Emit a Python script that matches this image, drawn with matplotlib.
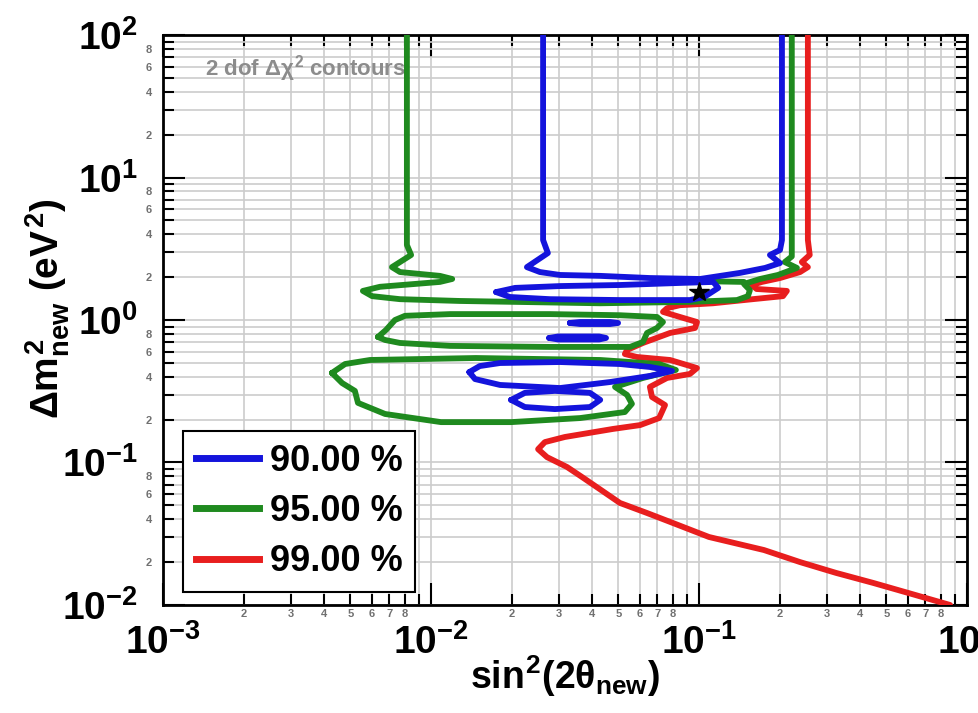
import numpy as np
import matplotlib
matplotlib.use('Agg')
import matplotlib.pyplot as plt
from matplotlib.ticker import LogLocator, FuncFormatter, LogFormatterMathtext
from matplotlib.lines import Line2D

plt.rcParams['font.family'] = ['Liberation Sans', 'DejaVu Sans']
plt.rcParams['font.weight'] = 'bold'
plt.rcParams['mathtext.fontset'] = 'custom'
for k in ('rm', 'it', 'bf', 'sf'):
    plt.rcParams['mathtext.' + k] = 'Liberation Sans:bold'

# ---------------- dane (sin^2(2theta), dm^2) ----------------
# 99 % (czerwony) - jedna otwarta krzywa
red99_x = [0.2549, 0.2549, 0.259, 0.242, 0.2549, 0.2383, 0.2006, 0.1718, 0.1575, 0.164,
           0.2128, 0.2058, 0.1587, 0.1128, 0.0849, 0.0760, 0.0734, 0.0849, 0.0983, 0.0967,
           0.0780, 0.0618, 0.0539, 0.0529, 0.0587, 0.0780, 0.0983, 0.0925, 0.0760, 0.0656,
           0.0668, 0.0747, 0.0710, 0.0603, 0.0478, 0.0316, 0.0266, 0.0251, 0.0271, 0.0322,
           0.0366, 0.0428, 0.0507, 0.0640, 0.0800, 0.1090, 0.1748, 0.2383, 0.3245, 0.4457,
           0.608, 0.865]
red99_y = [100, 3.64, 2.86, 2.55, 2.35, 2.17, 1.97, 1.85, 1.76, 1.65,
           1.60, 1.47, 1.40, 1.31, 1.27, 1.21, 1.14, 1.05, 0.968, 0.879,
           0.811, 0.690, 0.616, 0.577, 0.550, 0.524, 0.460, 0.418, 0.392, 0.339,
           0.288, 0.253, 0.205, 0.183, 0.172, 0.151, 0.139, 0.124, 0.109, 0.0929,
           0.0791, 0.0647, 0.0520, 0.0442, 0.0376, 0.0300, 0.0243, 0.0200, 0.0168, 0.0143,
           0.0121, 0.0100]

# 95 % (zielony)
green95_u_x = [0.00813, 0.00813, 0.00843, 0.00766, 0.00715, 0.00766, 0.0108, 0.0120, 0.0108, 0.00645,
               0.00557, 0.00603, 0.00766, 0.0128, 0.0428, 0.0925, 0.1386, 0.1523, 0.1549, 0.1472,
               0.169, 0.197, 0.232, 0.209, 0.222, 0.222]
green95_u_y = [100, 3.36, 2.86, 2.55, 2.35, 2.17, 2.04, 1.94, 1.85, 1.71,
               1.60, 1.47, 1.40, 1.36, 1.31, 1.34, 1.38, 1.47, 1.62, 1.79,
               1.94, 2.07, 2.32, 2.55, 2.79, 100]
green95_band_x = [0.0925, 0.1472]
green95_band_y = [1.88, 1.85]
green95_a_x = [0.00634, 0.00679, 0.00734, 0.0080, 0.0118, 0.0278, 0.0507, 0.0697, 0.0734, 0.0697,
               0.0640, 0.0618, 0.0553, 0.0278, 0.0118, 0.00766, 0.00674, 0.00634]
green95_a_y = [0.760, 0.851, 1.00, 1.07, 1.10, 1.10, 1.08, 1.05, 0.968, 0.879,
               0.811, 0.701, 0.647, 0.647, 0.658, 0.690, 0.724, 0.760]
green95_b_x = [0.00427, 0.00478, 0.00592, 0.0147, 0.0428, 0.0710, 0.0820, 0.0710, 0.0618, 0.0486,
               0.0539, 0.0562, 0.0529, 0.0360, 0.0199, 0.0109, 0.00674, 0.00534, 0.00520, 0.00466,
               0.00427]
green95_b_y = [0.425, 0.491, 0.524, 0.541, 0.524, 0.491, 0.446, 0.418, 0.392, 0.339,
               0.298, 0.258, 0.226, 0.205, 0.192, 0.192, 0.219, 0.262, 0.318, 0.361,
               0.425]

# 90 % (niebieski)
blue90_u_x = [0.0262, 0.0262, 0.0273, 0.0228, 0.0255, 0.0303, 0.0428, 0.0656, 0.1009, 0.1421,
              0.1765, 0.2006, 0.184, 0.2006, 0.204, 0.204]
blue90_u_y = [100, 3.64, 2.95, 2.35, 2.17, 2.07, 2.04, 1.97, 1.94, 2.14,
              2.32, 2.51, 2.86, 3.10, 3.64, 100]
blue90_star_x = [0.0175, 0.0206, 0.0303, 0.0507, 0.0849, 0.113, 0.118, 0.1045, 0.0925, 0.0507,
                 0.0278, 0.0197, 0.0175]
blue90_star_y = [1.57, 1.68, 1.73, 1.76, 1.82, 1.85, 1.68, 1.45, 1.38, 1.38,
                 1.40, 1.45, 1.57]
blue90_d1_x = [0.0330, 0.0360, 0.0466, 0.0499, 0.0466, 0.0360, 0.0330]
blue90_d1_y = [0.953, 0.968, 0.968, 0.953, 0.937, 0.937, 0.953]
blue90_d2_x = [0.0276, 0.0298, 0.0424, 0.0450, 0.0424, 0.0298, 0.0276]
blue90_d2_y = [0.748, 0.766, 0.766, 0.748, 0.730, 0.730, 0.748]
blue90_l2_x = [0.0139, 0.0152, 0.0181, 0.0303, 0.0507, 0.0656, 0.0793, 0.0656, 0.0466, 0.0303,
               0.0181, 0.0146, 0.0139]
blue90_l2_y = [0.431, 0.475, 0.499, 0.507, 0.491, 0.468, 0.439, 0.405, 0.367, 0.333,
               0.350, 0.385, 0.431]
blue90_l3_x = [0.0199, 0.0224, 0.0290, 0.0392, 0.0428, 0.0392, 0.0290, 0.0224, 0.0199]
blue90_l3_y = [0.275, 0.308, 0.318, 0.308, 0.275, 0.245, 0.237, 0.245, 0.275]

best_fit_x = [0.1]
best_fit_y = [1.57]

levels = ['90.00 %', '95.00 %', '99.00 %']
BLUE = '#1414dc'
GREEN = '#1f8a1f'
RED = '#e81e1e'

# ---------------- rysunek ----------------
fig = plt.figure(figsize=(9.79, 7.13), dpi=100)
ax = fig.add_axes([0.1665, 0.1515, 0.8212, 0.7994])
ax.set_xscale('log')
ax.set_yscale('log')

lw = 4.2
kw = dict(lw=lw, solid_joinstyle='round', solid_capstyle='round')

ax.plot(red99_x, red99_y, color=RED, zorder=3, **kw)

for xs, ys in [(green95_u_x, green95_u_y), (green95_band_x, green95_band_y),
               (green95_a_x, green95_a_y), (green95_b_x, green95_b_y)]:
    ax.plot(xs, ys, color=GREEN, zorder=4, **kw)

for xs, ys in [(blue90_u_x, blue90_u_y), (blue90_star_x, blue90_star_y),
               (blue90_d1_x, blue90_d1_y), (blue90_d2_x, blue90_d2_y),
               (blue90_l2_x, blue90_l2_y), (blue90_l3_x, blue90_l3_y)]:
    ax.plot(xs, ys, color=BLUE, zorder=5, **kw)

ax.plot(best_fit_x, best_fit_y, marker='*', color='black', ms=15, ls='none', zorder=6)

ax.set_xlim(1e-3, 1)
ax.set_ylim(1e-2, 1e2)

# osie i siatka
ax.set_axisbelow(True)
ax.grid(which='both', color='#cccccc', lw=1.2)

for axis in (ax.xaxis, ax.yaxis):
    axis.set_major_locator(LogLocator(base=10, numticks=10))
    axis.set_minor_locator(LogLocator(base=10, subs=np.arange(2, 10), numticks=20))
    axis.set_major_formatter(LogFormatterMathtext())


def minor_label(keep):
    def f(v, pos):
        d = int(round(v / 10 ** np.floor(np.log10(v) + 1e-9)))
        return str(d) if d in keep else ''
    return f


ax.xaxis.set_minor_formatter(FuncFormatter(minor_label((2, 3, 4, 5, 6, 7, 8))))
ax.yaxis.set_minor_formatter(FuncFormatter(minor_label((2, 4, 6, 8))))

ax.tick_params(which='both', direction='in', top=True, right=True, width=1.5)
ax.tick_params(which='major', length=16, labelsize=28)
ax.tick_params(which='minor', length=8, labelsize=8, labelcolor='#707070')
ax.tick_params(axis='x', which='major', pad=14)
ax.tick_params(axis='x', which='minor', pad=3)
ax.tick_params(axis='y', which='major', pad=18)
ax.tick_params(axis='y', which='minor', pad=8)
for s in ax.spines.values():
    s.set_linewidth(2)

ax.set_xlabel(r'$sin^{2}(2\theta_{new})$', fontsize=27)
ax.xaxis.set_label_coords(0.5, -0.085)
ax.set_ylabel(r'$\Delta m^{2}_{new}\ (eV^{2})$', fontsize=28)
ax.yaxis.set_label_coords(-0.113, 0.52)

ax.text(0.052, 0.942, r'2 dof $\Delta\chi^{2}$ contours', transform=ax.transAxes,
        color='#8c8c8c', fontsize=16, fontweight='bold', va='center', ha='left')

# legenda
handles = [Line2D([], [], color=c, lw=5) for c in (BLUE, GREEN, RED)]
leg = ax.legend(handles, levels, loc='lower left', bbox_to_anchor=(0.025, 0.023),
                borderaxespad=0, prop={'size': 26, 'weight': 'bold'}, frameon=True,
                fancybox=False, edgecolor='black', framealpha=1, handlelength=1.75,
                handletextpad=0.3, labelspacing=0.42, borderpad=0.35)
leg.get_frame().set_linewidth(1.5)
leg.set_zorder(10)

fig.savefig('out.png', dpi=100)
